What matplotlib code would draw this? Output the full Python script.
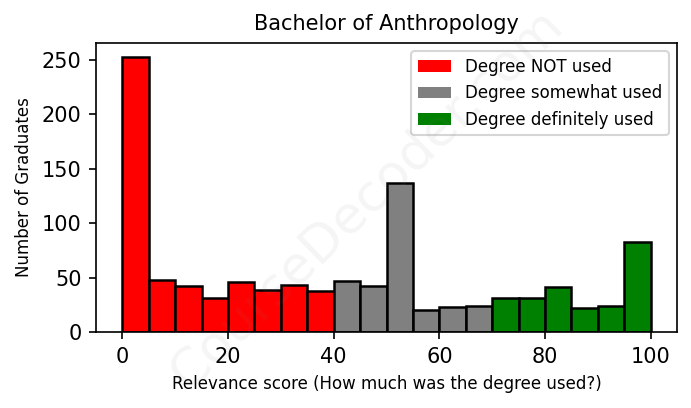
import matplotlib
matplotlib.use('Agg')
import matplotlib.pyplot as plt
from matplotlib.patches import Patch

# Histogram bins: 5-point wide bins from 0 to 100
bin_starts = list(range(0, 100, 5))
counts = [253, 48, 42, 31, 46, 39, 43, 38, 47, 42,
          137, 20, 23, 24, 31, 31, 41, 22, 24, 83]

# colour groups by relevance score
groups = ['Degree NOT used', 'Degree somewhat used', 'Degree definitely used']
group_colors = ['red', 'grey', 'green']
cutoffs = [40, 70]


def bar_color(start):
    if start < cutoffs[0]:
        return group_colors[0]
    if start < cutoffs[1]:
        return group_colors[1]
    return group_colors[2]


fig = plt.figure(figsize=(691 / 150, 408 / 150), dpi=150)
ax = fig.add_axes([96 / 691, 76 / 408, 581 / 691, 289 / 408])

colors = [bar_color(s) for s in bin_starts]
ax.bar(bin_starts, counts, width=5, align='edge', color=colors,
       edgecolor='black', linewidth=1.2)

ax.set_title('Bachelor of Anthropology', fontsize=10)
ax.set_xlabel('Relevance score (How much was the degree used?)', fontsize=8)
ax.set_ylabel('Number of Graduates', fontsize=8)
ax.tick_params(labelsize=10)

handles = [Patch(facecolor=c, label=g) for g, c in zip(groups, group_colors)]
ax.legend(handles=handles, loc='upper right', fontsize=8)

# faint watermark
fig.text(0.53, 0.51, 'CourseDecoder.com', fontsize=25, color='grey',
         alpha=0.08, rotation=44, ha='center', va='center')

fig.savefig('out.png', dpi=150)
